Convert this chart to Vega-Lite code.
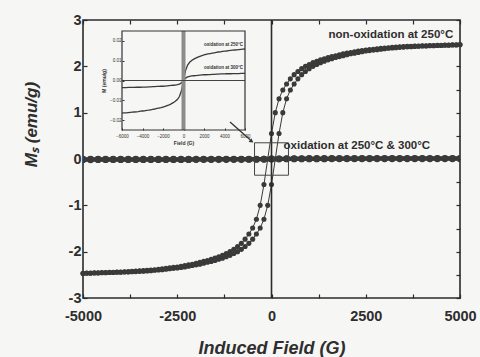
{
  "$schema": "https://vega.github.io/schema/vega-lite/v6.json",
  "width": 377,
  "height": 278,
  "autosize": {"type": "none"},
  "padding": {"left": 83, "top": 20, "right": 20, "bottom": 59},
  "background": "#f6f6f4",
  "config": {"view": {"stroke": "#2b2b2b", "strokeWidth": 1.6}, "font": "Liberation Sans"},
  "datasets": {
    "nonox": [
      {"branch":"up","H":-5000,"M":-2.47},{"branch":"up","H":-4900,"M":-2.465},{"branch":"up","H":-4800,"M":-2.465},{"branch":"up","H":-4700,"M":-2.46},{"branch":"up","H":-4600,"M":-2.46},{"branch":"up","H":-4500,"M":-2.455},{"branch":"up","H":-4400,"M":-2.455},{"branch":"up","H":-4300,"M":-2.45},{"branch":"up","H":-4200,"M":-2.45},{"branch":"up","H":-4100,"M":-2.445},{"branch":"up","H":-4000,"M":-2.445},{"branch":"up","H":-3900,"M":-2.44},{"branch":"up","H":-3800,"M":-2.44},{"branch":"up","H":-3700,"M":-2.435},{"branch":"up","H":-3600,"M":-2.43},{"branch":"up","H":-3500,"M":-2.425},{"branch":"up","H":-3400,"M":-2.42},{"branch":"up","H":-3300,"M":-2.415},{"branch":"up","H":-3200,"M":-2.41},{"branch":"up","H":-3100,"M":-2.4},{"branch":"up","H":-3000,"M":-2.395},{"branch":"up","H":-2900,"M":-2.39},{"branch":"up","H":-2800,"M":-2.38},{"branch":"up","H":-2700,"M":-2.37},{"branch":"up","H":-2600,"M":-2.36},{"branch":"up","H":-2500,"M":-2.35},{"branch":"up","H":-2400,"M":-2.34},{"branch":"up","H":-2300,"M":-2.33},{"branch":"up","H":-2200,"M":-2.315},{"branch":"up","H":-2100,"M":-2.3},{"branch":"up","H":-2000,"M":-2.285},{"branch":"up","H":-1900,"M":-2.27},{"branch":"up","H":-1800,"M":-2.25},{"branch":"up","H":-1700,"M":-2.23},{"branch":"up","H":-1600,"M":-2.21},{"branch":"up","H":-1500,"M":-2.19},{"branch":"up","H":-1400,"M":-2.165},{"branch":"up","H":-1300,"M":-2.14},{"branch":"up","H":-1200,"M":-2.11},{"branch":"up","H":-1100,"M":-2.08},{"branch":"up","H":-1000,"M":-2.04},{"branch":"up","H":-900,"M":-2.0},{"branch":"up","H":-800,"M":-1.95},{"branch":"up","H":-700,"M":-1.89},{"branch":"up","H":-600,"M":-1.82},{"branch":"up","H":-500,"M":-1.73},{"branch":"up","H":-400,"M":-1.62},{"branch":"up","H":-300,"M":-1.49},{"branch":"up","H":-200,"M":-1.3},{"branch":"up","H":-100,"M":-1.0},{"branch":"up","H":0,"M":-0.55},{"branch":"up","H":100,"M":0},{"branch":"up","H":200,"M":0.55},{"branch":"up","H":300,"M":1.0},{"branch":"up","H":400,"M":1.3},{"branch":"up","H":500,"M":1.49},{"branch":"up","H":600,"M":1.62},{"branch":"up","H":700,"M":1.73},{"branch":"up","H":800,"M":1.82},{"branch":"up","H":900,"M":1.89},{"branch":"up","H":1000,"M":1.95},{"branch":"up","H":1100,"M":2.0},{"branch":"up","H":1200,"M":2.04},{"branch":"up","H":1300,"M":2.08},{"branch":"up","H":1400,"M":2.11},{"branch":"up","H":1500,"M":2.14},{"branch":"up","H":1600,"M":2.165},{"branch":"up","H":1700,"M":2.19},{"branch":"up","H":1800,"M":2.21},{"branch":"up","H":1900,"M":2.23},{"branch":"up","H":2000,"M":2.25},{"branch":"up","H":2100,"M":2.27},{"branch":"up","H":2200,"M":2.285},{"branch":"up","H":2300,"M":2.3},{"branch":"up","H":2400,"M":2.315},{"branch":"up","H":2500,"M":2.33},{"branch":"up","H":2600,"M":2.34},{"branch":"up","H":2700,"M":2.35},{"branch":"up","H":2800,"M":2.36},{"branch":"up","H":2900,"M":2.37},{"branch":"up","H":3000,"M":2.38},{"branch":"up","H":3100,"M":2.39},{"branch":"up","H":3200,"M":2.395},{"branch":"up","H":3300,"M":2.4},{"branch":"up","H":3400,"M":2.41},{"branch":"up","H":3500,"M":2.415},{"branch":"up","H":3600,"M":2.42},{"branch":"up","H":3700,"M":2.425},{"branch":"up","H":3800,"M":2.43},{"branch":"up","H":3900,"M":2.435},{"branch":"up","H":4000,"M":2.44},{"branch":"up","H":4100,"M":2.44},{"branch":"up","H":4200,"M":2.445},{"branch":"up","H":4300,"M":2.445},{"branch":"up","H":4400,"M":2.45},{"branch":"up","H":4500,"M":2.45},{"branch":"up","H":4600,"M":2.455},{"branch":"up","H":4700,"M":2.455},{"branch":"up","H":4800,"M":2.46},{"branch":"up","H":4900,"M":2.46},{"branch":"up","H":5000,"M":2.465},
      {"branch":"down","H":-5000,"M":-2.465},{"branch":"down","H":-4900,"M":-2.46},{"branch":"down","H":-4800,"M":-2.46},{"branch":"down","H":-4700,"M":-2.455},{"branch":"down","H":-4600,"M":-2.455},{"branch":"down","H":-4500,"M":-2.45},{"branch":"down","H":-4400,"M":-2.45},{"branch":"down","H":-4300,"M":-2.445},{"branch":"down","H":-4200,"M":-2.445},{"branch":"down","H":-4100,"M":-2.44},{"branch":"down","H":-4000,"M":-2.44},{"branch":"down","H":-3900,"M":-2.435},{"branch":"down","H":-3800,"M":-2.43},{"branch":"down","H":-3700,"M":-2.425},{"branch":"down","H":-3600,"M":-2.42},{"branch":"down","H":-3500,"M":-2.415},{"branch":"down","H":-3400,"M":-2.41},{"branch":"down","H":-3300,"M":-2.4},{"branch":"down","H":-3200,"M":-2.395},{"branch":"down","H":-3100,"M":-2.39},{"branch":"down","H":-3000,"M":-2.38},{"branch":"down","H":-2900,"M":-2.37},{"branch":"down","H":-2800,"M":-2.36},{"branch":"down","H":-2700,"M":-2.35},{"branch":"down","H":-2600,"M":-2.34},{"branch":"down","H":-2500,"M":-2.33},{"branch":"down","H":-2400,"M":-2.315},{"branch":"down","H":-2300,"M":-2.3},{"branch":"down","H":-2200,"M":-2.285},{"branch":"down","H":-2100,"M":-2.27},{"branch":"down","H":-2000,"M":-2.25},{"branch":"down","H":-1900,"M":-2.23},{"branch":"down","H":-1800,"M":-2.21},{"branch":"down","H":-1700,"M":-2.19},{"branch":"down","H":-1600,"M":-2.165},{"branch":"down","H":-1500,"M":-2.14},{"branch":"down","H":-1400,"M":-2.11},{"branch":"down","H":-1300,"M":-2.08},{"branch":"down","H":-1200,"M":-2.04},{"branch":"down","H":-1100,"M":-2.0},{"branch":"down","H":-1000,"M":-1.95},{"branch":"down","H":-900,"M":-1.89},{"branch":"down","H":-800,"M":-1.82},{"branch":"down","H":-700,"M":-1.73},{"branch":"down","H":-600,"M":-1.62},{"branch":"down","H":-500,"M":-1.49},{"branch":"down","H":-400,"M":-1.3},{"branch":"down","H":-300,"M":-1.0},{"branch":"down","H":-200,"M":-0.55},{"branch":"down","H":-100,"M":0},{"branch":"down","H":0,"M":0.55},{"branch":"down","H":100,"M":1.0},{"branch":"down","H":200,"M":1.3},{"branch":"down","H":300,"M":1.49},{"branch":"down","H":400,"M":1.62},{"branch":"down","H":500,"M":1.73},{"branch":"down","H":600,"M":1.82},{"branch":"down","H":700,"M":1.89},{"branch":"down","H":800,"M":1.95},{"branch":"down","H":900,"M":2.0},{"branch":"down","H":1000,"M":2.04},{"branch":"down","H":1100,"M":2.08},{"branch":"down","H":1200,"M":2.11},{"branch":"down","H":1300,"M":2.14},{"branch":"down","H":1400,"M":2.165},{"branch":"down","H":1500,"M":2.19},{"branch":"down","H":1600,"M":2.21},{"branch":"down","H":1700,"M":2.23},{"branch":"down","H":1800,"M":2.25},{"branch":"down","H":1900,"M":2.27},{"branch":"down","H":2000,"M":2.285},{"branch":"down","H":2100,"M":2.3},{"branch":"down","H":2200,"M":2.315},{"branch":"down","H":2300,"M":2.33},{"branch":"down","H":2400,"M":2.34},{"branch":"down","H":2500,"M":2.35},{"branch":"down","H":2600,"M":2.36},{"branch":"down","H":2700,"M":2.37},{"branch":"down","H":2800,"M":2.38},{"branch":"down","H":2900,"M":2.39},{"branch":"down","H":3000,"M":2.395},{"branch":"down","H":3100,"M":2.4},{"branch":"down","H":3200,"M":2.41},{"branch":"down","H":3300,"M":2.415},{"branch":"down","H":3400,"M":2.42},{"branch":"down","H":3500,"M":2.425},{"branch":"down","H":3600,"M":2.43},{"branch":"down","H":3700,"M":2.435},{"branch":"down","H":3800,"M":2.44},{"branch":"down","H":3900,"M":2.44},{"branch":"down","H":4000,"M":2.445},{"branch":"down","H":4100,"M":2.445},{"branch":"down","H":4200,"M":2.45},{"branch":"down","H":4300,"M":2.45},{"branch":"down","H":4400,"M":2.455},{"branch":"down","H":4500,"M":2.455},{"branch":"down","H":4600,"M":2.46},{"branch":"down","H":4700,"M":2.46},{"branch":"down","H":4800,"M":2.465},{"branch":"down","H":4900,"M":2.465},{"branch":"down","H":5000,"M":2.47}
    ],
    "ox": [
      {"T":"250","H":-6000,"M":-0.0165},{"T":"250","H":-5800,"M":-0.0164},{"T":"250","H":-5600,"M":-0.0163},{"T":"250","H":-5400,"M":-0.0162},{"T":"250","H":-5200,"M":-0.0161},{"T":"250","H":-5000,"M":-0.016},{"T":"250","H":-4800,"M":-0.0159},{"T":"250","H":-4600,"M":-0.0158},{"T":"250","H":-4400,"M":-0.0157},{"T":"250","H":-4200,"M":-0.0155},{"T":"250","H":-4000,"M":-0.0154},{"T":"250","H":-3800,"M":-0.0153},{"T":"250","H":-3600,"M":-0.0151},{"T":"250","H":-3400,"M":-0.015},{"T":"250","H":-3200,"M":-0.0148},{"T":"250","H":-3000,"M":-0.0146},{"T":"250","H":-2800,"M":-0.0144},{"T":"250","H":-2600,"M":-0.0141},{"T":"250","H":-2400,"M":-0.0139},{"T":"250","H":-2200,"M":-0.0137},{"T":"250","H":-2000,"M":-0.0134},{"T":"250","H":-1800,"M":-0.0131},{"T":"250","H":-1600,"M":-0.0127},{"T":"250","H":-1400,"M":-0.0123},{"T":"250","H":-1200,"M":-0.0118},{"T":"250","H":-1000,"M":-0.0112},{"T":"250","H":-800,"M":-0.0105},{"T":"250","H":-600,"M":-0.0096},{"T":"250","H":-400,"M":-0.0081},{"T":"250","H":-200,"M":-0.0052},{"T":"250","H":0,"M":0},{"T":"250","H":200,"M":0.005},{"T":"250","H":400,"M":0.0078},{"T":"250","H":600,"M":0.0092},{"T":"250","H":800,"M":0.0101},{"T":"250","H":1000,"M":0.0108},{"T":"250","H":1200,"M":0.0113},{"T":"250","H":1400,"M":0.0118},{"T":"250","H":1600,"M":0.0122},{"T":"250","H":1800,"M":0.0126},{"T":"250","H":2000,"M":0.0129},{"T":"250","H":2200,"M":0.0132},{"T":"250","H":2400,"M":0.0134},{"T":"250","H":2600,"M":0.0136},{"T":"250","H":2800,"M":0.0138},{"T":"250","H":3000,"M":0.014},{"T":"250","H":3200,"M":0.0142},{"T":"250","H":3400,"M":0.0144},{"T":"250","H":3600,"M":0.0145},{"T":"250","H":3800,"M":0.0147},{"T":"250","H":4000,"M":0.0148},{"T":"250","H":4200,"M":0.0149},{"T":"250","H":4400,"M":0.0151},{"T":"250","H":4600,"M":0.0152},{"T":"250","H":4800,"M":0.0153},{"T":"250","H":5000,"M":0.0154},{"T":"250","H":5200,"M":0.0155},{"T":"250","H":5400,"M":0.0156},{"T":"250","H":5600,"M":0.0157},{"T":"250","H":5800,"M":0.0158},{"T":"250","H":6000,"M":0.0159},
      {"T":"300","H":-6000,"M":-0.0036},{"T":"300","H":-5800,"M":-0.0036},{"T":"300","H":-5600,"M":-0.0036},{"T":"300","H":-5400,"M":-0.0035},{"T":"300","H":-5200,"M":-0.0035},{"T":"300","H":-5000,"M":-0.0035},{"T":"300","H":-4800,"M":-0.0035},{"T":"300","H":-4600,"M":-0.0034},{"T":"300","H":-4400,"M":-0.0034},{"T":"300","H":-4200,"M":-0.0034},{"T":"300","H":-4000,"M":-0.0033},{"T":"300","H":-3800,"M":-0.0033},{"T":"300","H":-3600,"M":-0.0033},{"T":"300","H":-3400,"M":-0.0032},{"T":"300","H":-3200,"M":-0.0032},{"T":"300","H":-3000,"M":-0.0031},{"T":"300","H":-2800,"M":-0.0031},{"T":"300","H":-2600,"M":-0.003},{"T":"300","H":-2400,"M":-0.003},{"T":"300","H":-2200,"M":-0.0029},{"T":"300","H":-2000,"M":-0.0029},{"T":"300","H":-1800,"M":-0.0028},{"T":"300","H":-1600,"M":-0.0027},{"T":"300","H":-1400,"M":-0.0026},{"T":"300","H":-1200,"M":-0.0025},{"T":"300","H":-1000,"M":-0.0024},{"T":"300","H":-800,"M":-0.0023},{"T":"300","H":-600,"M":-0.0021},{"T":"300","H":-400,"M":-0.0018},{"T":"300","H":-200,"M":-0.0012},{"T":"300","H":0,"M":0},{"T":"300","H":200,"M":0.0012},{"T":"300","H":400,"M":0.0018},{"T":"300","H":600,"M":0.0021},{"T":"300","H":800,"M":0.0023},{"T":"300","H":1000,"M":0.0024},{"T":"300","H":1200,"M":0.0025},{"T":"300","H":1400,"M":0.0026},{"T":"300","H":1600,"M":0.0027},{"T":"300","H":1800,"M":0.0028},{"T":"300","H":2000,"M":0.0029},{"T":"300","H":2200,"M":0.0029},{"T":"300","H":2400,"M":0.003},{"T":"300","H":2600,"M":0.003},{"T":"300","H":2800,"M":0.0031},{"T":"300","H":3000,"M":0.0031},{"T":"300","H":3200,"M":0.0032},{"T":"300","H":3400,"M":0.0032},{"T":"300","H":3600,"M":0.0033},{"T":"300","H":3800,"M":0.0033},{"T":"300","H":4000,"M":0.0033},{"T":"300","H":4200,"M":0.0034},{"T":"300","H":4400,"M":0.0034},{"T":"300","H":4600,"M":0.0034},{"T":"300","H":4800,"M":0.0035},{"T":"300","H":5000,"M":0.0035},{"T":"300","H":5200,"M":0.0035},{"T":"300","H":5400,"M":0.0035},{"T":"300","H":5600,"M":0.0036},{"T":"300","H":5800,"M":0.0036},{"T":"300","H":6000,"M":0.0036}
    ]
  },
  "layer": [
    {
      "layer": [
        {
          "data": {"name": "ox"},
          "mark": {"type": "line", "color": "#3a3a3a", "strokeWidth": 4, "clip": true},
          "encoding": {
            "x": {"field": "H", "type": "quantitative", "scale": {"domain": [-5000, 5000]},
              "axis": {"orient": "bottom", "values": [-5000, -3750, -2500, -1250, 0, 1250, 2500, 3750, 5000],
                "labelExpr": "datum.value % 2500 === 0 ? toString(datum.value) : ''",
                "tickSize": -4, "tickColor": "#2b2b2b", "tickWidth": 1.2, "domain": false, "grid": false,
                "labelFont": "Liberation Sans", "labelFontWeight": "bold", "labelFontSize": 14.5, "labelColor": "#2e2e2e",
                "labelPadding": 15, "labelFlush": false, "labelOverlap": false,
                "title": "Induced Field (G)", "titleFont": "Liberation Sans", "titleFontStyle": "italic", "titleFontWeight": "bold",
                "titleFontSize": 18, "titleColor": "#2e2e2e", "titleY": 55, "titleBaseline": "alphabetic"}},
            "y": {"field": "M", "type": "quantitative", "scale": {"domain": [-3, 3]},
              "axis": {"orient": "left", "values": [-3, -2.5, -2, -1.5, -1, -0.5, 0, 0.5, 1, 1.5, 2, 2.5, 3],
                "labelExpr": "datum.value % 1 === 0 ? toString(datum.value) : ''",
                "tickSize": -4, "tickColor": "#2b2b2b", "tickWidth": 1.2, "domain": false, "grid": false,
                "labelFont": "Liberation Sans", "labelFontWeight": "bold", "labelFontSize": 14.5, "labelColor": "#2e2e2e",
                "labelPadding": 6, "labelFlush": false, "labelOverlap": false,
                "title": "Mₛ (emu/g)", "titleFont": "Liberation Sans", "titleFontStyle": "italic", "titleFontWeight": "bold",
                "titleFontSize": 17, "titleColor": "#2e2e2e", "titleX": -43, "titleY": 104}},
            "detail": {"field": "T"}
          }
        },
        {
          "data": {"name": "ox"},
          "mark": {"type": "point", "filled": true, "size": 46, "color": "#3a3a3a", "opacity": 1, "clip": true},
          "encoding": {
            "x": {"field": "H", "type": "quantitative"},
            "y": {"field": "M", "type": "quantitative"}
          }
        },
        {
          "data": {"name": "nonox"},
          "mark": {"type": "line", "color": "#3a3a3a", "strokeWidth": 1},
          "encoding": {
            "x": {"field": "H", "type": "quantitative"},
            "y": {"field": "M", "type": "quantitative"},
            "detail": {"field": "branch"}
          }
        },
        {
          "data": {"name": "nonox"},
          "mark": {"type": "point", "filled": true, "size": 26, "color": "#3a3a3a", "opacity": 1},
          "encoding": {
            "x": {"field": "H", "type": "quantitative"},
            "y": {"field": "M", "type": "quantitative"}
          }
        },
        {
          "data": {"values": [{}]},
          "mark": {"type": "rule", "color": "#2b2b2b", "strokeWidth": 1.6},
          "encoding": {
            "x": {"datum": 0, "type": "quantitative"},
            "y": {"datum": -3, "type": "quantitative"},
            "y2": {"datum": 3}
          }
        },
        {
          "data": {"values": [{}]},
          "mark": {"type": "rect", "fill": null, "fillOpacity": 0, "stroke": "#444", "strokeWidth": 1},
          "encoding": {
            "x": {"datum": -450, "type": "quantitative"},
            "x2": {"datum": 450},
            "y": {"datum": -0.35, "type": "quantitative"},
            "y2": {"datum": 0.35}
          }
        },
        {
          "data": {"values": [{}]},
          "mark": {"type": "rule", "color": "#333", "strokeWidth": 1.3},
          "encoding": {
            "x": {"datum": -1100, "type": "quantitative"},
            "x2": {"datum": -560},
            "y": {"datum": 0.8, "type": "quantitative"},
            "y2": {"datum": 0.41}
          }
        },
        {
          "data": {"values": [{}]},
          "mark": {"type": "point", "shape": "triangle", "filled": true, "size": 22, "angle": 126, "color": "#333", "opacity": 1},
          "encoding": {
            "x": {"datum": -540, "type": "quantitative"},
            "y": {"datum": 0.39, "type": "quantitative"}
          }
        },
        {
          "data": {"values": [{}]},
          "mark": {"type": "text", "text": "non-oxidation at 250°C", "align": "right", "baseline": "middle", "font": "Liberation Sans", "fontWeight": "bold", "fontSize": 11.5, "color": "#2e2e2e"},
          "encoding": {
            "x": {"datum": 4820, "type": "quantitative"},
            "y": {"datum": 2.68, "type": "quantitative"}
          }
        },
        {
          "data": {"values": [{}]},
          "mark": {"type": "text", "text": "oxidation at 250°C & 300°C", "align": "left", "baseline": "middle", "font": "Liberation Sans", "fontWeight": "bold", "fontSize": 11.5, "color": "#2e2e2e"},
          "encoding": {
            "x": {"datum": 320, "type": "quantitative"},
            "y": {"datum": 0.27, "type": "quantitative"}
          }
        }
      ]
    },
    {
      "layer": [
        {
          "data": {"name": "ox"},
          "mark": {"type": "line", "color": "#3a3a3a", "strokeWidth": 1.3},
          "encoding": {
            "x": {"field": "H", "type": "quantitative", "scale": {"domain": [-6000, 6000], "range": [39, 162]},
              "axis": {"orient": "bottom", "offset": -168, "values": [-6000, -4000, -2000, 0, 2000, 4000, 6000], "format": "d",
                "tickSize": -2, "tickColor": "#333", "domain": false, "grid": false,
                "labelFont": "Liberation Sans", "labelFontSize": 4.5, "labelColor": "#333", "labelPadding": 5,
                "labelFlush": false, "labelOverlap": false,
                "title": "Field (G)", "titleFont": "Liberation Sans", "titleFontSize": 5, "titleFontWeight": "bold", "titleColor": "#333", "titlePadding": 3}},
            "y": {"field": "M", "type": "quantitative", "scale": {"domain": [-0.025, 0.025], "range": [110, 11]},
              "axis": {"orient": "left", "offset": -39, "values": [-0.02, -0.01, 0, 0.01, 0.02], "format": ".2f",
                "tickSize": -2, "tickColor": "#333", "domain": false, "grid": false,
                "labelFont": "Liberation Sans", "labelFontSize": 4.5, "labelColor": "#333", "labelPadding": 3,
                "labelFlush": false, "labelOverlap": false,
                "title": "M (emu/g)", "titleFont": "Liberation Sans", "titleFontSize": 5, "titleFontWeight": "bold", "titleColor": "#333", "titlePadding": 3}},
            "detail": {"field": "T"}
          }
        },
        {
          "data": {"values": [{}]},
          "mark": {"type": "rule", "color": "#8c8c8c", "strokeWidth": 4},
          "encoding": {
            "x": {"datum": 0, "type": "quantitative"},
            "y": {"datum": -0.025, "type": "quantitative"},
            "y2": {"datum": 0.025}
          }
        },
        {
          "data": {"values": [{}]},
          "mark": {"type": "rule", "color": "#444", "strokeWidth": 1},
          "encoding": {
            "x": {"datum": -6000, "type": "quantitative"},
            "x2": {"datum": 6000},
            "y": {"datum": 0, "type": "quantitative"}
          }
        },
        {
          "data": {"values": [{}]},
          "mark": {"type": "rect", "fill": null, "fillOpacity": 0, "stroke": "#333", "strokeWidth": 1.2},
          "encoding": {
            "x": {"datum": -6000, "type": "quantitative"},
            "x2": {"datum": 6000},
            "y": {"datum": -0.025, "type": "quantitative"},
            "y2": {"datum": 0.025}
          }
        },
        {
          "data": {"values": [{}]},
          "mark": {"type": "text", "text": "oxidation at 250°C", "align": "right", "baseline": "middle", "font": "Liberation Sans", "fontWeight": "bold", "fontSize": 4.5, "color": "#333"},
          "encoding": {
            "x": {"datum": 5800, "type": "quantitative"},
            "y": {"datum": 0.0178, "type": "quantitative"}
          }
        },
        {
          "data": {"values": [{}]},
          "mark": {"type": "text", "text": "oxidation at 300°C", "align": "right", "baseline": "middle", "font": "Liberation Sans", "fontWeight": "bold", "fontSize": 4.5, "color": "#333"},
          "encoding": {
            "x": {"datum": 5800, "type": "quantitative"},
            "y": {"datum": 0.0064, "type": "quantitative"}
          }
        }
      ]
    },
    {
      "data": {"values": [{}]},
      "mark": {"type": "point", "opacity": 0},
      "encoding": {
        "x": {"datum": 0, "type": "quantitative", "scale": {"domain": [-5000, 5000]},
          "axis": {"orient": "top", "values": [-5000, -3750, -2500, -1250, 0, 1250, 2500, 3750, 5000], "labels": false,
            "tickSize": -4, "tickColor": "#2b2b2b", "tickWidth": 1.2, "domain": false, "grid": false, "title": null}},
        "y": {"datum": 0, "type": "quantitative", "scale": {"domain": [-3, 3]},
          "axis": {"orient": "right", "values": [-3, -2.5, -2, -1.5, -1, -0.5, 0, 0.5, 1, 1.5, 2, 2.5, 3], "labels": false,
            "tickSize": -4, "tickColor": "#2b2b2b", "tickWidth": 1.2, "domain": false, "grid": false, "title": null}}
      }
    }
  ],
  "resolve": {"scale": {"x": "independent", "y": "independent"}}
}
